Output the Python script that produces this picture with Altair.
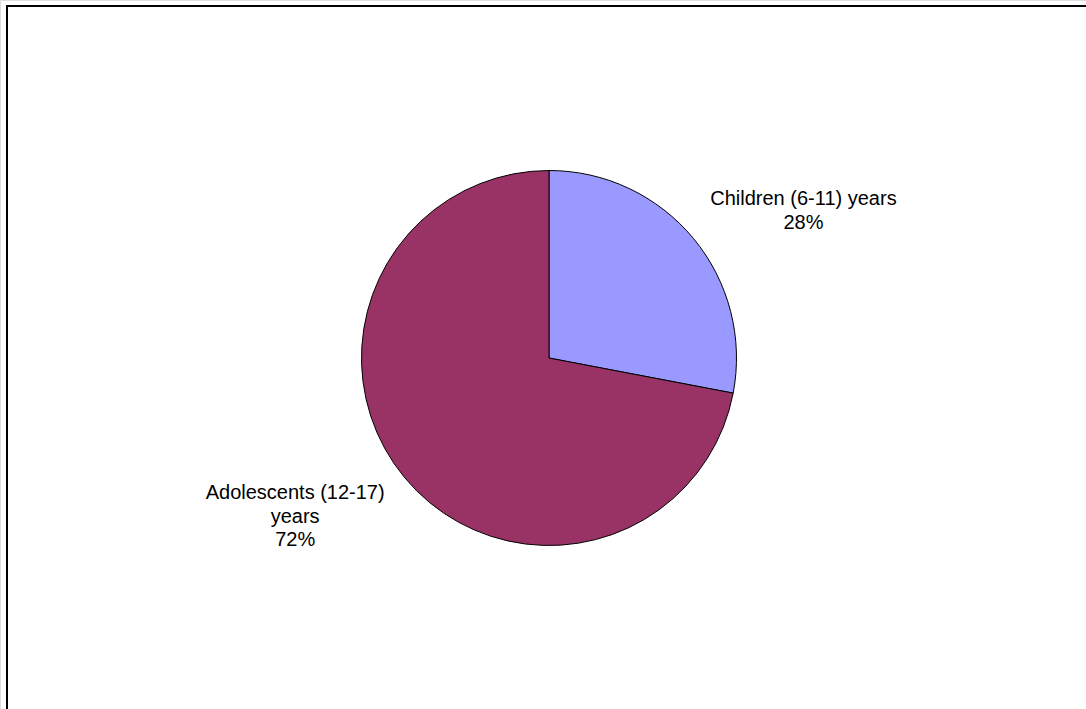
import altair as alt
import pandas as pd

groups = ["Children (6-11) years", "Adolescents (12-17) years"]
label_lines = [["Children (6-11) years", "28%"], ["Adolescents (12-17)", "years", "72%"]]
shares = [28, 72]
order = [1, 2]
colors = ["#9999FF", "#993366"]

df = pd.DataFrame({
    "group": groups,
    "share": shares,
    "idx": order,
    "label": label_lines,
})

CX, CY, R = 549, 358, 187.5
theta_scale = alt.Scale(domain=[0, 100])

pie = alt.Chart(df).mark_arc(stroke="black", strokeWidth=1).encode(
    theta=alt.Theta("share:Q", stack=True, scale=theta_scale),
    order=alt.Order("idx:Q"),
    x=alt.value(CX),
    y=alt.value(CY),
    radius=alt.value(R),
    color=alt.Color("group:N", scale=alt.Scale(domain=groups, range=colors), legend=None),
)

txt_common = dict(font="Liberation Sans", fontSize=20, lineHeight=23.5,
                  color="black", align="center", baseline="middle")

lab_base = alt.Chart(df).transform_window(
    cum="sum(share)", sort=[alt.SortField("idx")]
).transform_calculate(
    mid="datum.cum - datum.share / 2"
).encode(
    theta=alt.Theta("mid:Q", stack=False, scale=theta_scale),
    x=alt.value(CX), y=alt.value(CY), text="label",
)

lab1 = lab_base.mark_text(radius=290, dx=31, dy=26, **txt_common).transform_filter(alt.datum.idx == 1)
lab2 = lab_base.mark_text(radius=297, dx=-25, dy=-54, **txt_common).transform_filter(alt.datum.idx == 2)

frame = alt.Chart(pd.DataFrame({"a": [0]})).mark_rect(
    fill=None, stroke="black", strokeWidth=2
).encode(x=alt.value(7), y=alt.value(6), x2=alt.value(1200), y2=alt.value(800))

chart = alt.layer(frame, pie, lab1, lab2).properties(
    width=1086, height=709, padding=0,
    autosize=alt.AutoSizeParams(type="none"),
).configure_view(stroke=None).configure(background="white")

chart.save("out.html", embed_options={"renderer": "svg", "actions": False})
